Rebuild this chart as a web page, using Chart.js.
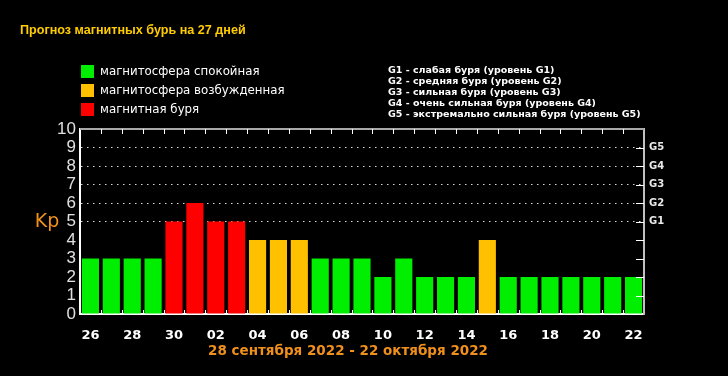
<!DOCTYPE html>
<html>
<head>
<meta charset="utf-8">
<script src="https://cdn.jsdelivr.net/npm/chart.js@4/dist/chart.umd.min.js"></script>
<style>
  html, body { margin: 0; padding: 0; background: #000; }
  #wrap { width: 728px; height: 376px; position: relative; }
</style>
</head>
<body>
<div id="wrap"><canvas id="kpChart" width="728" height="376"></canvas></div>
<script>
// days: 26 сентября - 22 октября
const days = ['26', '27', '28', '29', '30', '01', '02', '03', '04', '05', '06', '07', '08', '09',
    '10', '11', '12', '13', '14', '15', '16', '17', '18', '19', '20', '21', '22'];
const kpValues = [3, 3, 3, 3, 5, 6, 5, 5, 4, 4, 4, 3, 3, 3, 2, 3, 2, 2, 2, 4, 2, 2, 2, 2, 2, 2, 2];
const gLevels = { 5: 'G1', 6: 'G2', 7: 'G3', 8: 'G4', 9: 'G5' };
const legendItems = [
    { color: '#00ee00', text: 'магнитосфера спокойная' },
    { color: '#ffc000', text: 'магнитосфера возбужденная' },
    { color: '#ff0000', text: 'магнитная буря' }
];
const gNotes = [
    'G1 - слабая буря (уровень G1)',
    'G2 - средняя буря (уровень G2)',
    'G3 - сильная буря (уровень G3)',
    'G4 - очень сильная буря (уровень G4)',
    'G5 - экстремально сильная буря (уровень G5)'
];
const titleText = 'Прогноз магнитных бурь на 27 дней';
const periodText = '28 сентября 2022 - 22 октября 2022';

const barColor = (v) => v >= 5 ? '#ff0000' : (v === 4 ? '#ffc000' : '#00ee00');

const decor = {
    id: 'decor',
    beforeDraw(chart) {
        const ctx = chart.ctx;
        ctx.save();
        ctx.fillStyle = '#000';
        ctx.fillRect(0, 0, chart.width, chart.height);
        ctx.restore();
    },
    afterDraw(chart) {
        const ctx = chart.ctx;
        const area = chart.chartArea;
        const x = chart.scales.x;
        const y = chart.scales.y;
        ctx.save();

        // top border
        ctx.strokeStyle = '#a8a8a8';
        ctx.lineWidth = 2;
        ctx.beginPath();
        ctx.moveTo(area.left, area.top);
        ctx.lineTo(area.right, area.top);
        ctx.stroke();

        // small inward ticks
        ctx.lineWidth = 1;
        ctx.strokeStyle = '#ffffff';
        for (let i = 1; i < days.length; i++) {
            const px = Math.round(x.getPixelForValue(i - 0.5)) + 0.5;
            ctx.beginPath();
            ctx.moveTo(px, area.top);
            ctx.lineTo(px, area.top + 5);
            ctx.moveTo(px, area.bottom);
            ctx.lineTo(px, area.bottom - 4);
            ctx.stroke();
        }
        for (let v = 1; v < 10; v++) {
            const py = Math.round(y.getPixelForValue(v)) + 0.5;
            ctx.beginPath();
            ctx.moveTo(area.right, py);
            ctx.lineTo(area.right - 8, py);
            ctx.stroke();
        }

        // title
        ctx.textBaseline = 'middle';
        ctx.textAlign = 'left';
        ctx.fillStyle = '#ffcc00';
        ctx.font = 'bold 12.6px "Liberation Sans", Arial, sans-serif';
        ctx.fillText(titleText, 20, 31);

        // legend
        ctx.font = '11.8px "DejaVu Sans", sans-serif';
        legendItems.forEach((item, i) => {
            const ly = 65 + i * 19;
            ctx.fillStyle = item.color;
            ctx.fillRect(81, ly, 13, 13);
            ctx.fillStyle = '#ffffff';
            ctx.fillText(item.text, 100, ly + 6.5);
        });

        // G notes
        ctx.font = 'bold 9.5px "DejaVu Sans", sans-serif';
        ctx.fillStyle = '#ffffff';
        gNotes.forEach((t, i) => ctx.fillText(t, 388, 71 + i * 11));

        // Kp
        ctx.fillStyle = '#f0901c';
        ctx.font = '19px "DejaVu Sans", sans-serif';
        ctx.textAlign = 'center';
        ctx.fillText('Kp', 47, 222);

        // period
        ctx.font = 'bold 13.5px "DejaVu Sans", sans-serif';
        ctx.fillText(periodText, 348, 351);

        ctx.restore();
    }
};

new Chart(document.getElementById('kpChart'), {
    type: 'bar',
    data: {
        labels: days,
        datasets: [{
            data: kpValues,
            backgroundColor: kpValues.map(barColor),
            borderWidth: 0,
            barPercentage: 0.82,
            categoryPercentage: 1.0,
            yAxisID: 'y'
        }]
    },
    options: {
        responsive: false,
        animation: false,
        events: [],
        layout: { padding: { left: 0, right: 0, top: 129, bottom: 32 } },
        plugins: { legend: { display: false }, tooltip: { enabled: false } },
        scales: {
            x: {
                grid: { display: false },
                border: { color: '#ffffff', width: 2 },
                ticks: {
                    color: '#ffffff',
                    autoSkip: false,
                    maxRotation: 0,
                    padding: 6,
                    font: { family: 'DejaVu Sans', weight: 'bold', size: 13 },
                    callback: (v, i) => i % 2 === 0 ? days[i] : ''
                },
                afterFit: (s) => { s.height = 30; }
            },
            y: {
                min: 0,
                max: 10,
                grid: {
                    drawTicks: false,
                    color: (c) => (c.tick && c.tick.value >= 5 && c.tick.value <= 9) ? '#d8d8d8' : 'rgba(0,0,0,0)',
                    lineWidth: 1
                },
                border: { color: '#ffffff', width: 2, dash: [1.5, 4.5] },
                ticks: {
                    stepSize: 1,
                    autoSkip: false,
                    color: '#e0e0e0',
                    padding: 4,
                    font: { family: 'Liberation Sans', size: 17 }
                },
                afterFit: (s) => { s.width = 80; }
            },
            y2: {
                position: 'right',
                min: 0,
                max: 10,
                grid: { display: false, drawTicks: false },
                border: { color: '#c0c0c0', width: 2 },
                ticks: {
                    stepSize: 1,
                    autoSkip: false,
                    color: '#e8e8e8',
                    padding: 5,
                    font: { family: 'DejaVu Sans', weight: 'bold', size: 10 },
                    callback: (v) => gLevels[v] || ''
                },
                afterFit: (s) => { s.width = 84; }
            }
        }
    },
    plugins: [decor]
});
</script>
</body>
</html>
